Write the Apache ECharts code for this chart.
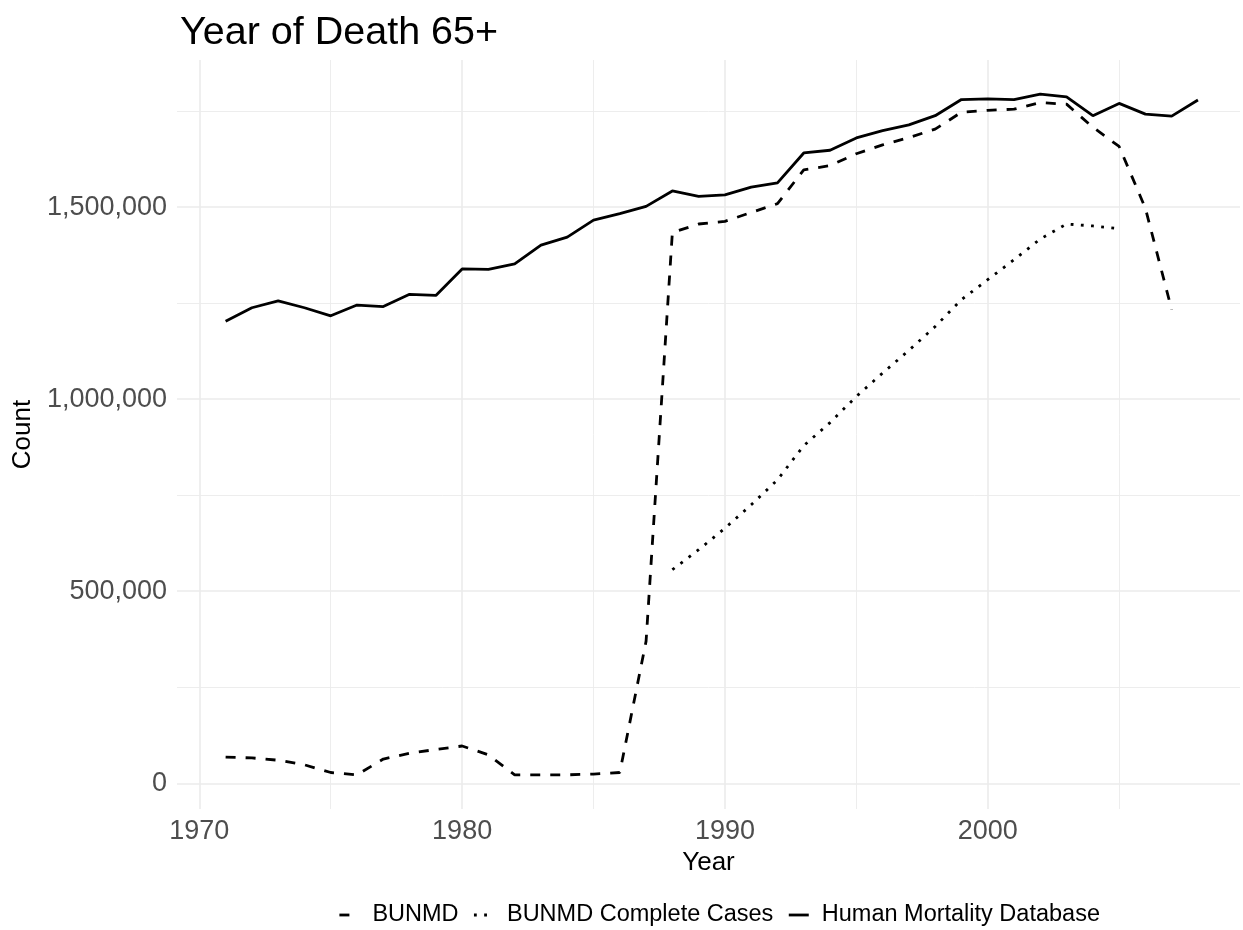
<!DOCTYPE html>
<html><head><meta charset="utf-8">
<script src="https://cdn.jsdelivr.net/npm/echarts@6/dist/echarts.min.js"></script>
<style>html,body{margin:0;padding:0;background:#fff}#c{width:1243px;height:930px}</style>
</head><body><div id="c"></div>
<script>
// ---- data ----
const hmdYears = [1971,1972,1973,1974,1975,1976,1977,1978,1979,1980,1981,1982,1983,1984,1985,1986,1987,1988,1989,1990,1991,1992,1993,1994,1995,1996,1997,1998,1999,2000,2001,2002,2003,2004,2005,2006,2007,2008];
const hmdValues = [1203000,1238000,1256000,1238000,1217000,1245000,1241000,1273000,1270000,1339000,1338000,1352000,1401000,1422000,1466000,1483000,1502000,1542000,1528000,1532000,1552000,1563000,1641000,1648000,1680000,1699000,1714000,1738000,1780000,1782000,1780000,1794000,1787000,1738000,1770000,1742000,1737000,1779000];
const bunmdYears = [1971,1972,1973,1974,1975,1976,1977,1978,1979,1980,1981,1982,1983,1984,1985,1986,1987,1988,1989,1990,1991,1992,1993,1994,1995,1996,1997,1998,1999,2000,2001,2002,2003,2004,2005,2006,2007];
const bunmdValues = [68000,66000,60000,48000,28000,22000,63000,78000,88000,97000,74000,22000,22000,22000,24000,28000,370000,1434000,1456000,1463000,1486000,1509000,1597000,1608000,1639000,1662000,1681000,1703000,1747000,1752000,1755000,1772000,1768000,1708000,1658000,1497000,1233000];
const completeYears = [1988,1989,1990,1991,1992,1993,1994,1995,1996,1997,1998,1999,2000,2001,2002,2003,2004,2005];
const completeValues = [556000,608000,664000,725000,790000,879000,939000,1007000,1068000,1127000,1189000,1259000,1311000,1363000,1417000,1456000,1451000,1444000];
const seriesNames = ['BUNMD','BUNMD Complete Cases','Human Mortality Database'];
const xMajorTicks = [1970,1980,1990,2000];
const xMinorTicks = [1975,1985,1995,2005];
const yMajorTicks = [0,500000,1000000,1500000];
const yMinorTicks = [250000,750000,1250000,1750000];
const titleText = 'Year of Death 65+';
const xTitle = 'Year';
const yTitle = 'Count';

// ---- chart ----
const pair = (xs, vs) => xs.map((x, i) => [x, vs[i]]);
const chart = echarts.init(document.getElementById('c'), null, {renderer: 'canvas'});
const FONT = 'Liberation Sans';
const GRID = '#EBEBEB';
const LW = 2.8;
const xRange = {min: 1969.15, max: 2009.6};
const yRange = {min: -67000, max: 1883000};

chart.setOption({
  animation: false,
  backgroundColor: '#fff',
  textStyle: {fontFamily: FONT},
  title: {
    text: titleText, left: 175, top: 8,
    textStyle: {fontSize: 39.5, fontWeight: 'normal', color: '#000', fontFamily: FONT}
  },
  grid: {left: 177, right: 3, top: 60, bottom: 121, containLabel: false},
  legend: {
    data: seriesNames, left: 333, top: 898,
    itemWidth: 20, itemHeight: 16, itemGap: 14,
    itemStyle: {opacity: 0, borderWidth: 0},
    lineStyle: {width: LW},
    textStyle: {fontSize: 23.5, color: '#000', fontFamily: FONT, padding: [0,0,0,8]}
  },
  xAxis: [
    {
      type: 'value', ...xRange,
      axisLine: {show: false},
      axisTick: {show: false, customValues: xMajorTicks},
      axisLabel: {customValues: xMajorTicks, fontSize: 27, color: '#4D4D4D', margin: 9, fontFamily: FONT,
        formatter: v => String(v)},
      splitLine: {show: true, lineStyle: {color: GRID, width: 1.6}},
      name: xTitle, nameLocation: 'middle', nameGap: 34,
      nameTextStyle: {fontSize: 26, color: '#000', fontFamily: FONT}
    },
    {
      type: 'value', ...xRange, position: 'bottom',
      axisLine: {show: false},
      axisTick: {show: false, customValues: xMinorTicks},
      axisLabel: {show: false},
      splitLine: {show: true, lineStyle: {color: GRID, width: 0.9}}
    }
  ],
  yAxis: [
    {
      type: 'value', ...yRange,
      axisLine: {show: false},
      axisTick: {show: false, customValues: yMajorTicks},
      axisLabel: {customValues: yMajorTicks, fontSize: 27, color: '#4D4D4D', margin: 10, fontFamily: FONT,
        formatter: v => Number(v).toLocaleString('en-US')},
      splitLine: {show: true, lineStyle: {color: GRID, width: 1.6}},
      name: yTitle, nameLocation: 'middle', nameGap: 139, nameRotate: 90,
      nameTextStyle: {fontSize: 26, color: '#000', fontFamily: FONT}
    },
    {
      type: 'value', ...yRange, position: 'left',
      axisLine: {show: false},
      axisTick: {show: false, customValues: yMinorTicks},
      axisLabel: {show: false},
      splitLine: {show: true, lineStyle: {color: GRID, width: 0.9}}
    }
  ],
  series: [
    {
      name: seriesNames[0], type: 'line', data: pair(bunmdYears, bunmdValues),
      symbol: 'none', xAxisIndex: 0, yAxisIndex: 0,
      itemStyle: {color: '#000'},
      lineStyle: {color: '#000', width: LW, type: [10, 10], cap: 'butt'}
    },
    {
      name: seriesNames[1], type: 'line', data: pair(completeYears, completeValues),
      symbol: 'none', xAxisIndex: 0, yAxisIndex: 0,
      itemStyle: {color: '#000'},
      lineStyle: {color: '#000', width: LW, type: [2.8, 7.4], cap: 'butt'}
    },
    {
      name: seriesNames[2], type: 'line', data: pair(hmdYears, hmdValues),
      symbol: 'none', xAxisIndex: 0, yAxisIndex: 0,
      itemStyle: {color: '#000'},
      lineStyle: {color: '#000', width: LW, type: 'solid'}
    }
  ]
});
</script>
</body></html>
